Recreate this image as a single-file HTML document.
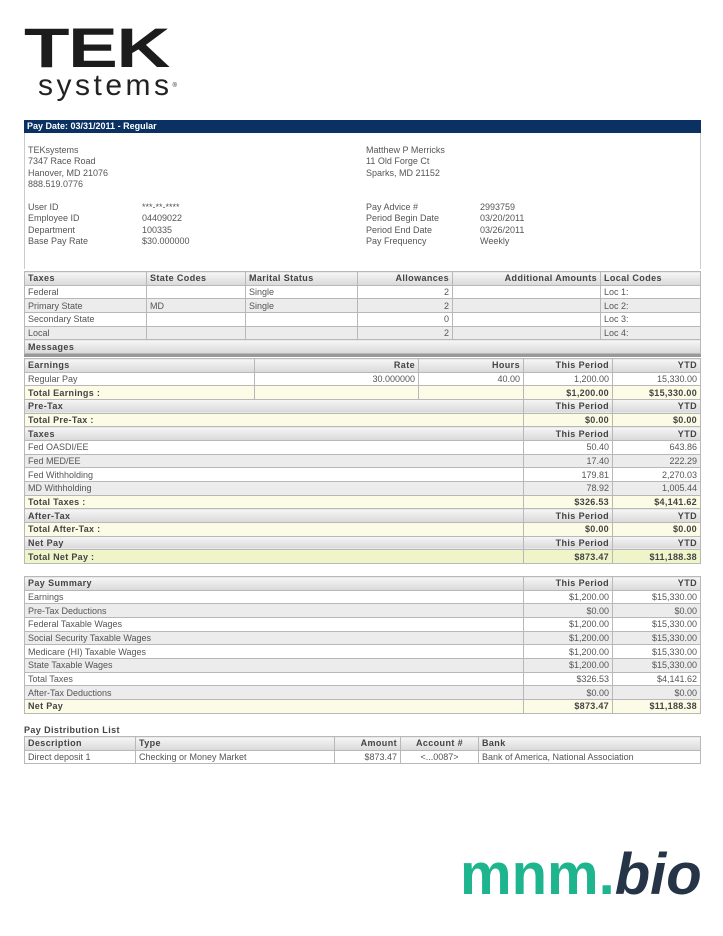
<!DOCTYPE html>
<html><head><meta charset="utf-8"><style>
*{margin:0;padding:0;box-sizing:border-box}
body{width:723px;height:936px;background:#fff;position:relative;font-family:"Liberation Sans",Arial,sans-serif;color:#444;overflow:hidden}
.a{position:absolute}
.t{font-size:9px;line-height:11.3px;color:#555}
table{position:absolute;left:24px;width:677px;border-collapse:collapse;table-layout:fixed;font-size:9px;color:#555}
td{height:13.67px;padding:1px 3px 0;border:1px solid #b8b8b8;white-space:nowrap;overflow:hidden;line-height:11px}
tr.h td{background:linear-gradient(#f6f6f6,#d9d9d9);font-family:"Liberation Sans Narrow","Liberation Sans",sans-serif;font-weight:bold;color:#444;letter-spacing:.4px}
tr.g td{background:#ececec}
tr.y td{background:#fbfbe6;font-family:"Liberation Sans Narrow","Liberation Sans",sans-serif;font-weight:bold;color:#444;letter-spacing:.3px}
tr.yy td{background:#eff5c9;font-family:"Liberation Sans Narrow","Liberation Sans",sans-serif;font-weight:bold;color:#444;letter-spacing:.3px}
.r{text-align:right}
</style></head><body>
<div class="a" style="left:24px;top:20px;font:900 56px/56px 'Liberation Sans',sans-serif;color:#1c1c1c;letter-spacing:-1px;transform:scaleX(1.33);transform-origin:left">TEK</div>
<div class="a" style="left:38px;top:69px;font:30px/34px 'Liberation Sans',sans-serif;color:#222;letter-spacing:3.5px">systems<span style="font-size:6px;vertical-align:top">®</span></div>
<div class="a" style="left:24px;top:120px;width:677px;height:13px;background:#0b3163;color:#fff;font:bold 9px/13px 'Liberation Sans Narrow','Liberation Sans',sans-serif;padding-left:3px">Pay Date: 03/31/2011 - Regular</div>
<div class="a" style="left:24px;top:133px;width:677px;height:136px;border-left:1px solid #ccc;border-right:1px solid #ccc"></div>
<div class="a t" style="left:28px;top:145px">TEKsystems<br>7347 Race Road<br>Hanover, MD 21076<br>888.519.0776</div>
<div class="a t" style="left:28px;top:202px">User ID<br>Employee ID<br>Department<br>Base Pay Rate</div>
<div class="a t" style="left:142px;top:202px">***-**-****<br>04409022<br>100335<br>$30.000000</div>
<div class="a t" style="left:366px;top:145px">Matthew P Merricks<br>11 Old Forge Ct<br>Sparks, MD 21152</div>
<div class="a t" style="left:366px;top:202px">Pay Advice #<br>Period Begin Date<br>Period End Date<br>Pay Frequency</div>
<div class="a t" style="left:480px;top:202px">2993759<br>03/20/2011<br>03/26/2011<br>Weekly</div>

<table style="top:271px">
<colgroup><col style="width:122px"><col style="width:99px"><col style="width:112px"><col style="width:95px"><col style="width:148px"><col></colgroup>
<tr class="h"><td>Taxes</td><td>State Codes</td><td>Marital Status</td><td class="r">Allowances</td><td class="r">Additional Amounts</td><td>Local Codes</td></tr>
<tr><td>Federal</td><td></td><td>Single</td><td class="r">2</td><td></td><td>Loc 1:</td></tr>
<tr class="g"><td>Primary State</td><td>MD</td><td>Single</td><td class="r">2</td><td></td><td>Loc 2:</td></tr>
<tr><td>Secondary State</td><td></td><td></td><td class="r">0</td><td></td><td>Loc 3:</td></tr>
<tr class="g"><td>Local</td><td></td><td></td><td class="r">2</td><td></td><td>Loc 4:</td></tr>
<tr class="h"><td colspan="6">Messages</td></tr>
</table>
<div class="a" style="left:24px;top:354px;width:677px;height:3px;background:#999"></div>

<table style="top:358px">
<colgroup><col style="width:230px"><col style="width:164px"><col style="width:105px"><col style="width:89px"><col></colgroup>
<tr class="h"><td>Earnings</td><td class="r">Rate</td><td class="r">Hours</td><td class="r">This Period</td><td class="r">YTD</td></tr>
<tr><td>Regular Pay</td><td class="r">30.000000</td><td class="r">40.00</td><td class="r">1,200.00</td><td class="r">15,330.00</td></tr>
<tr class="y"><td>Total Earnings :</td><td></td><td></td><td class="r">$1,200.00</td><td class="r">$15,330.00</td></tr>
<tr class="h"><td colspan="3">Pre-Tax</td><td class="r">This Period</td><td class="r">YTD</td></tr>
<tr class="y"><td colspan="3">Total Pre-Tax :</td><td class="r">$0.00</td><td class="r">$0.00</td></tr>
<tr class="h"><td colspan="3">Taxes</td><td class="r">This Period</td><td class="r">YTD</td></tr>
<tr><td colspan="3">Fed OASDI/EE</td><td class="r">50.40</td><td class="r">643.86</td></tr>
<tr class="g"><td colspan="3">Fed MED/EE</td><td class="r">17.40</td><td class="r">222.29</td></tr>
<tr><td colspan="3">Fed Withholding</td><td class="r">179.81</td><td class="r">2,270.03</td></tr>
<tr class="g"><td colspan="3">MD Withholding</td><td class="r">78.92</td><td class="r">1,005.44</td></tr>
<tr class="y"><td colspan="3">Total Taxes :</td><td class="r">$326.53</td><td class="r">$4,141.62</td></tr>
<tr class="h"><td colspan="3">After-Tax</td><td class="r">This Period</td><td class="r">YTD</td></tr>
<tr class="y"><td colspan="3">Total After-Tax :</td><td class="r">$0.00</td><td class="r">$0.00</td></tr>
<tr class="h"><td colspan="3">Net Pay</td><td class="r">This Period</td><td class="r">YTD</td></tr>
<tr class="yy"><td colspan="3">Total Net Pay :</td><td class="r">$873.47</td><td class="r">$11,188.38</td></tr>
</table>

<table style="top:576px">
<colgroup><col style="width:499px"><col style="width:89px"><col></colgroup>
<tr class="h"><td>Pay Summary</td><td class="r">This Period</td><td class="r">YTD</td></tr>
<tr><td>Earnings</td><td class="r">$1,200.00</td><td class="r">$15,330.00</td></tr>
<tr class="g"><td>Pre-Tax Deductions</td><td class="r">$0.00</td><td class="r">$0.00</td></tr>
<tr><td>Federal Taxable Wages</td><td class="r">$1,200.00</td><td class="r">$15,330.00</td></tr>
<tr class="g"><td>Social Security Taxable Wages</td><td class="r">$1,200.00</td><td class="r">$15,330.00</td></tr>
<tr><td>Medicare (HI) Taxable Wages</td><td class="r">$1,200.00</td><td class="r">$15,330.00</td></tr>
<tr class="g"><td>State Taxable Wages</td><td class="r">$1,200.00</td><td class="r">$15,330.00</td></tr>
<tr><td>Total Taxes</td><td class="r">$326.53</td><td class="r">$4,141.62</td></tr>
<tr class="g"><td>After-Tax Deductions</td><td class="r">$0.00</td><td class="r">$0.00</td></tr>
<tr class="y"><td>Net Pay</td><td class="r">$873.47</td><td class="r">$11,188.38</td></tr>
</table>

<div class="a" style="left:24px;top:724px;font:bold 9px/12px 'Liberation Sans Narrow','Liberation Sans',sans-serif;color:#444;letter-spacing:.4px">Pay Distribution List</div>
<table style="top:736px">
<colgroup><col style="width:111px"><col style="width:199px"><col style="width:66px"><col style="width:78px"><col></colgroup>
<tr class="h"><td>Description</td><td>Type</td><td class="r">Amount</td><td style="text-align:center">Account #</td><td>Bank</td></tr>
<tr><td>Direct deposit 1</td><td>Checking or Money Market</td><td class="r">$873.47</td><td style="text-align:center">&lt;...0087&gt;</td><td>Bank of America, National Association</td></tr>
</table>

<div class="a" style="left:460px;top:843px;font:bold 58px/64px 'Liberation Sans',sans-serif;color:#1db48e;white-space:nowrap">mnm.<span style="color:#253447;font-style:italic">bio</span></div>
</body></html>
